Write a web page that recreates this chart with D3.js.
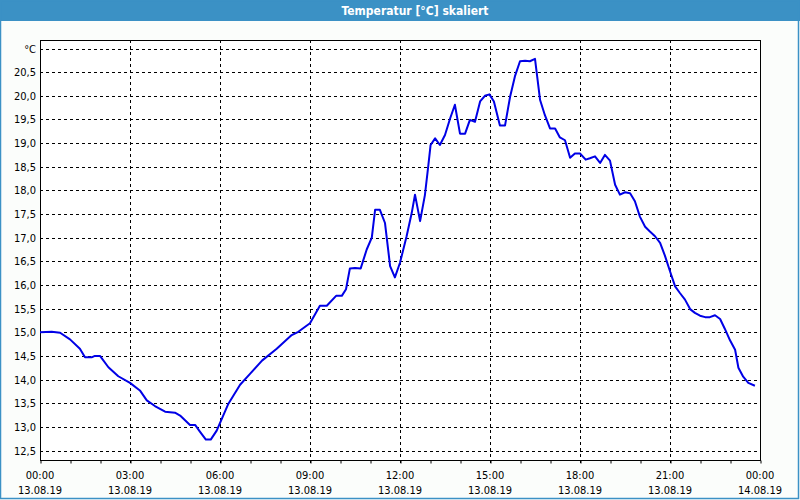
<!DOCTYPE html>
<html><head><meta charset="utf-8">
<script src="https://cdn.jsdelivr.net/npm/d3@7"></script>
<style>
html,body{margin:0;padding:0;background:#fbfdfb;}
svg{display:block;}
</style></head>
<body><svg id="c" width="800" height="500"></svg>
<script>
const title = "Temperatur [°C] skaliert";
const unitLabel = "°C";
// hours since 13.08.19 00:00
const hours = [0,0.39,0.67,1.0,1.33,1.5,1.72,1.83,2.0,2.28,2.61,3.0,3.33,3.56,3.83,4.17,4.5,4.67,5.0,5.17,5.33,5.53,5.69,5.89,6.06,6.28,6.67,
  7.0,7.4,7.89,8.39,8.61,9.0,9.33,9.56,9.87,10.06,10.2,10.33,10.5,10.69,10.89,11.06,11.17,11.33,11.5,11.67,11.83,12.0,12.22,12.39,12.5,12.67,12.83,12.94,
  13.02,13.17,13.33,13.5,13.67,13.83,14.0,14.17,14.33,14.5,14.67,14.83,14.98,15.13,15.33,15.5,15.67,15.83,16.0,16.17,16.33,16.5,16.67,16.83,17.0,17.17,17.33,17.5,17.67,17.83,18.0,18.19,18.33,18.5,18.67,18.83,19.0,
  19.17,19.33,19.5,19.67,19.83,20.0,20.17,20.33,20.5,20.67,20.83,21.0,21.17,21.33,21.5,21.67,21.83,22.0,22.17,22.33,22.5,22.67,22.83,23.0,23.17,23.28,23.44,23.61,23.83];
const temps = [15.0,15.01,14.99,14.85,14.65,14.47,14.47,14.5,14.5,14.26,14.07,13.93,13.77,13.56,13.44,13.32,13.30,13.24,13.04,13.04,12.9,12.73,12.73,12.92,13.17,13.49,13.89,
  14.12,14.4,14.65,14.94,15.01,15.19,15.56,15.56,15.77,15.77,15.91,16.35,16.36,16.35,16.75,17.0,17.59,17.59,17.31,16.4,16.16,16.47,17.03,17.52,17.91,17.35,17.9,18.5,
  18.96,19.1,18.96,19.17,19.52,19.81,19.2,19.2,19.49,19.45,19.88,20.0,20.03,19.88,19.37,19.37,19.98,20.41,20.73,20.74,20.73,20.78,19.91,19.59,19.31,19.31,19.12,19.06,18.69,18.78,18.78,18.65,18.68,18.72,18.58,18.75,18.63,
  18.12,17.91,17.96,17.94,17.77,17.44,17.23,17.13,17.03,16.89,16.62,16.29,15.97,15.83,15.69,15.49,15.41,15.35,15.32,15.32,15.36,15.28,15.07,14.83,14.63,14.25,14.06,13.93,13.87];
const yTicks = [12.5,13.0,13.5,14.0,14.5,15.0,15.5,16.0,16.5,17.0,17.5,18.0,18.5,19.0,19.5,20.0,20.5,21.0];
const xTicks = [0,3,6,9,12,15,18,21,24];
const xTimeLabels = ["00:00","03:00","06:00","09:00","12:00","15:00","18:00","21:00","00:00"];
const xDateLabels = ["13.08.19","13.08.19","13.08.19","13.08.19","13.08.19","13.08.19","13.08.19","13.08.19","14.08.19"];
const minorTicks = d3.range(0,25,1);

const svg = d3.select("#c");
const L=40,R=760,T=40,B=460;
const x = d3.scaleLinear().domain([0,24]).range([L,R]);
const y = d3.scaleLinear().domain([12.5,21.0]).range([450.5,48.5]);
const font = "Tahoma, 'DejaVu Sans Condensed', 'Liberation Sans', sans-serif";

// window frame
svg.append("rect").attr("x",0).attr("y",0).attr("width",800).attr("height",500).attr("fill","#fbfdfb");
svg.append("rect").attr("x",0).attr("y",0).attr("width",800).attr("height",21).attr("fill","#3b91c5");
svg.append("rect").attr("x",0.5).attr("y",0.5).attr("width",798).attr("height",498).attr("fill","none").attr("stroke","#3b91c5").attr("stroke-width",1.5);
svg.append("text").attr("x",415).attr("y",15).attr("text-anchor","middle").attr("fill","#fff")
  .attr("font-family",font).attr("font-weight","bold").attr("font-size",12).text(title);

// plot background
svg.append("rect").attr("x",L).attr("y",T).attr("width",R-L).attr("height",B-T).attr("fill","#fff");

// grid
const g = svg.append("g");
g.selectAll("line.h").data(yTicks).join("line")
  .attr("x1",L).attr("x2",R).attr("y1",d=>Math.round(y(d))+0.5).attr("y2",d=>Math.round(y(d))+0.5)
  .attr("stroke","#000").attr("stroke-dasharray","3,3").attr("stroke-width",1);
g.selectAll("line.v").data(xTicks.slice(1,-1)).join("line")
  .attr("x1",d=>Math.round(x(d))+0.5).attr("x2",d=>Math.round(x(d))+0.5).attr("y1",T).attr("y2",B+3)
  .attr("stroke","#000").attr("stroke-dasharray","3,3").attr("stroke-width",1);

// x axis with hourly ticks
const xAxis = d3.axisBottom(x).tickValues(minorTicks).tickSize(3).tickFormat("");
const xa = svg.append("g").attr("transform",`translate(0,${B+0.5})`).call(xAxis);
xa.select(".domain").remove();
xa.selectAll("line").attr("stroke","#000").attr("transform",d=>`translate(${Math.round(x(d))+0.5-x(d)},0)`);

// frame
svg.append("rect").attr("x",L+0.5).attr("y",T+0.5).attr("width",R-L).attr("height",B-T)
  .attr("fill","none").attr("stroke","#000").attr("stroke-width",1);

// x labels
const xl = svg.append("g").attr("font-family",font).attr("font-size",11).attr("fill","#000").attr("text-anchor","middle");
xl.selectAll("text.t").data(xTicks).join("text").attr("x",d=>x(d)).attr("y",479).text((d,i)=>xTimeLabels[i]);
xl.selectAll("text.d").data(xTicks).join("text").attr("x",d=>x(d)).attr("y",494).text((d,i)=>xDateLabels[i]);

// y labels
const yl = svg.append("g").attr("font-family",font).attr("font-size",11).attr("fill","#000").attr("text-anchor","end");
yl.selectAll("text").data(yTicks).join("text").attr("x",36).attr("y",d=>y(d)+4)
  .text(d=> d===21.0 ? unitLabel : d.toFixed(1).replace(".",","));

// line
const line = d3.line().x((d,i)=>x(hours[i])).y(d=>y(d));
svg.append("path").datum(temps).attr("d",line).attr("fill","none").attr("stroke","#0000e6")
  .attr("stroke-width",2).attr("stroke-linejoin","round");
</script></body></html>
